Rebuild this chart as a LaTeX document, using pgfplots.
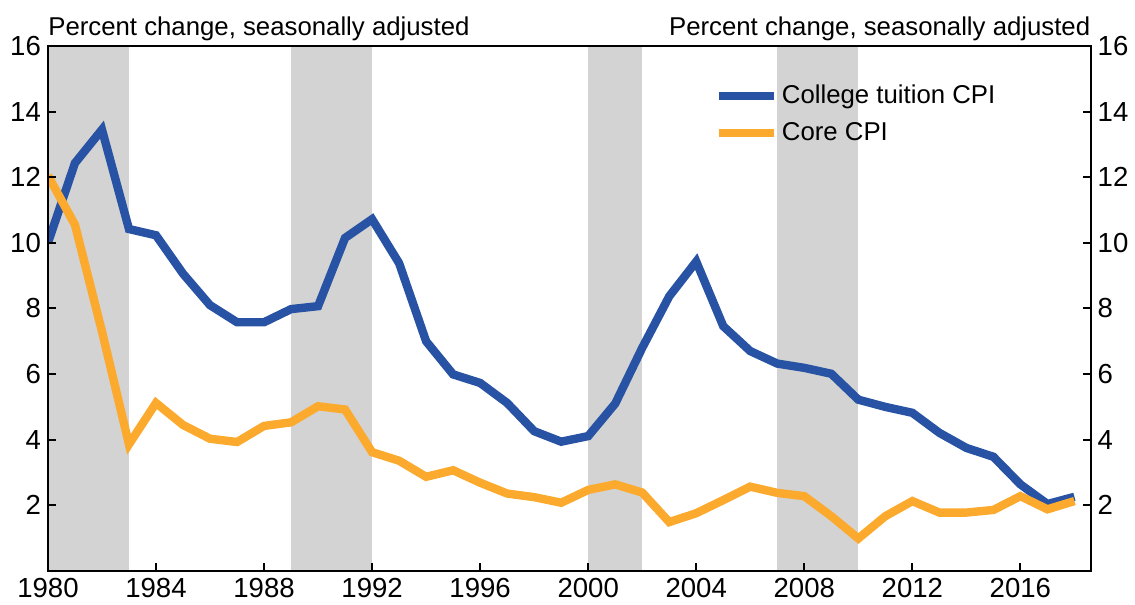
\documentclass[border=0pt]{standalone}
\usepackage{fontspec}
\setmainfont{Liberation Sans}
\usepackage{pgfplots}
\usepackage{pgfplotstable}
\pgfplotsset{compat=1.18}

\definecolor{tuition}{RGB}{40,82,163}
\definecolor{corecpi}{RGB}{252,170,45}
\definecolor{recess}{RGB}{211,211,211}

% annual percent change, seasonally adjusted
\pgfplotstableread{
year tuition core
1980 10.00 12.05
1981 12.43 10.55
1982 13.45 7.30
1983 10.42 3.86
1984 10.23 5.12
1985 9.06 4.45
1986 8.10 4.03
1987 7.58 3.93
1988 7.58 4.42
1989 7.98 4.53
1990 8.07 5.02
1991 10.15 4.92
1992 10.72 3.62
1993 9.38 3.36
1994 7.00 2.87
1995 5.99 3.07
1996 5.73 2.69
1997 5.12 2.36
1998 4.26 2.25
1999 3.94 2.08
2000 4.11 2.47
2001 5.10 2.64
2002 6.80 2.39
2003 8.37 1.49
2004 9.43 1.76
2005 7.46 2.16
2006 6.70 2.57
2007 6.32 2.38
2008 6.19 2.28
2009 6.01 1.67
2010 5.22 0.99
2011 5.00 1.67
2012 4.82 2.13
2013 4.21 1.78
2014 3.75 1.78
2015 3.48 1.86
2016 2.64 2.28
2017 2.04 1.88
2018 2.26 2.13
}\cpidata

\begin{document}
\begin{tikzpicture}
\pgfplotsset{
  base/.style={
    scale only axis, width=522pt, height=262.85pt,
    xmin=1980, xmax=2018.6, ymin=0, ymax=16,
    ytick={2,4,...,16},
    tick align=inside, major tick length=4pt,
    axis line style={line width=1pt}, tick style={line width=1pt, black},
    ticklabel style={font=\fontsize{13.8}{16}\selectfont},
    /pgf/number format/1000 sep={},
    /pgf/number format/assume math mode=true,
  },
}
\begin{axis}[base,
    axis on top,
    xtick={1980,1984,...,2016},
    xtick pos=lower, ytick pos=both, yticklabel pos=left,
    legend style={at={(0.639,0.934)}, anchor=north west, draw=none, fill=none,
      inner sep=0pt, row sep=4pt, font=\fontsize{12.9}{15}\selectfont},
    legend cell align=left,
    legend image code/.code={\draw[#1] (0pt,0pt) -- (27.5pt,0pt);},
    every axis plot/.append style={line join=miter},
  ]
  % recession shading
  \addplot[fill=recess, draw=none, forget plot] coordinates {(1980,16) (1983,16)} \closedcycle;
  \addplot[fill=recess, draw=none, forget plot] coordinates {(1989,16) (1992,16)} \closedcycle;
  \addplot[fill=recess, draw=none, forget plot] coordinates {(2000,16) (2002,16)} \closedcycle;
  \addplot[fill=recess, draw=none, forget plot] coordinates {(2007,16) (2010,16)} \closedcycle;

  \addplot[tuition, line width=4.2pt] table[x=year, y=tuition] {\cpidata};
  \addlegendentry{College tuition CPI}
  \addplot[corecpi, line width=4.2pt] table[x=year, y=core] {\cpidata};
  \addlegendentry{Core CPI}

  \coordinate (sw) at (rel axis cs:0,0);
  \coordinate (ne) at (rel axis cs:1,1);
  \coordinate (nw) at (rel axis cs:0,1);
\end{axis}
\begin{axis}[base,
    hide x axis, axis y line*=right,
    yticklabel pos=right, major tick length=0pt,
  ]
  \addplot[draw=none] coordinates {(1980,0)};
\end{axis}
\node[anchor=base west, font=\fontsize{12.9}{15}\selectfont, inner sep=0pt]
  at ([yshift=5pt]nw) {Percent change, seasonally adjusted};
\node[anchor=base east, font=\fontsize{12.9}{15}\selectfont, inner sep=0pt]
  at ([yshift=5pt]ne) {Percent change, seasonally adjusted};
\path ([shift={(-24pt,-16.65pt)}]sw) rectangle ([shift={(21.35pt,23pt)}]ne);
\end{tikzpicture}
\end{document}
